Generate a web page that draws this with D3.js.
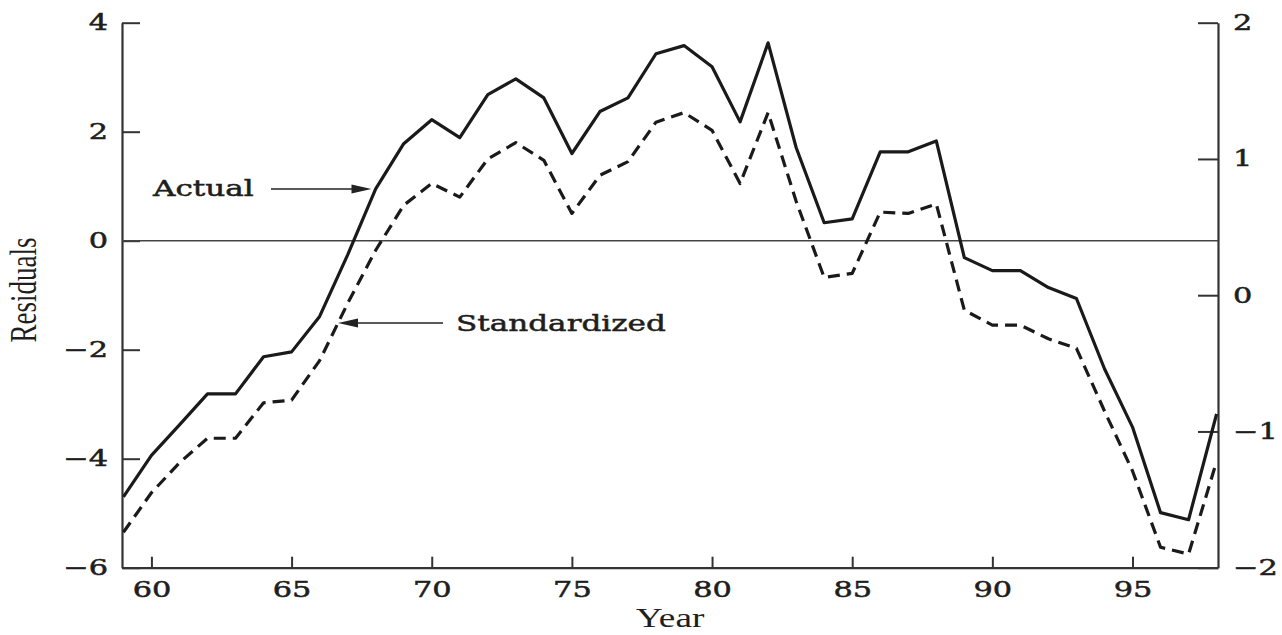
<!DOCTYPE html>
<html><head><meta charset="utf-8">
<script src="https://cdn.jsdelivr.net/npm/d3@7"></script>
<style>
html,body{margin:0;padding:0;background:#fff;}
svg{display:block;}
</style></head>
<body>
<svg id="chart" width="1282" height="635"></svg>
<script>
// ---- data ----
const years = [59,60,61,62,63,64,65,66,67,68,69,70,71,72,73,74,75,76,77,78,79,80,81,82,83,84,85,86,87,88,89,90,91,92,93,94,95,96,97,98];
// Actual residuals (left axis)
const actual = [-4.70,-3.94,-3.38,-2.81,-2.81,-2.13,-2.04,-1.39,-0.26,0.95,1.78,2.22,1.89,2.68,2.97,2.62,1.60,2.37,2.62,3.43,3.58,3.19,2.18,3.63,1.71,0.33,0.40,1.63,1.63,1.83,-0.31,-0.55,-0.55,-0.86,-1.06,-2.35,-3.42,-4.99,-5.12,-3.18];
// Standardized residuals (right axis)
const standardized = [-1.74,-1.45,-1.23,-1.05,-1.05,-0.79,-0.77,-0.48,-0.06,0.33,0.66,0.82,0.72,1.00,1.12,0.99,0.60,0.88,0.98,1.27,1.34,1.21,0.82,1.34,0.69,0.13,0.16,0.61,0.60,0.67,-0.11,-0.22,-0.22,-0.32,-0.39,-0.85,-1.29,-1.85,-1.90,-1.22];
const xTicks = [60,65,70,75,80,85,90,95];
const leftTicks = [-6,-4,-2,0,2,4];
const rightTicks = [-2,-1,0,1,2];
const labels = {y:"Residuals", x:"Year", actual:"Actual", standardized:"Standardized"};

// ---- layout ----
const L = 122, R = 1218, T = 22.7, B = 567.7;
const SX = 1.38; // horizontal stretch of the reference's text
const numFont = "'DejaVu Serif', serif";
const titleFont = "'Liberation Serif', 'Times New Roman', serif";
const ink = "#1e1e1e";

const svg = d3.select("#chart");
const x = d3.scaleLinear().domain([58.95, 98.05]).range([L, R]);
const yL = d3.scaleLinear().domain([-6, 4]).range([B, T]);
const yR = d3.scaleLinear().domain([-2, 2]).range([B, T]);

function stretchTicks(g) {
  g.selectAll(".tick text").each(function() {
    const t = d3.select(this);
    const tx = +t.attr("x") || 0, ty = +t.attr("y") || 0;
    t.attr("x", 0).attr("y", 0)
     .attr("transform", `translate(${tx},${ty}) scale(${SX},1)`);
  });
}

// left axis
const gL = svg.append("g").attr("transform", `translate(${L},0)`)
  .call(d3.axisLeft(yL).tickValues(leftTicks).tickSizeInner(-18).tickSizeOuter(0).tickPadding(14)
        .tickFormat(d => d < 0 ? "\u2212" + Math.abs(d) : d));
// right axis
const gR = svg.append("g").attr("transform", `translate(${R},0)`)
  .call(d3.axisRight(yR).tickValues(rightTicks).tickSizeInner(-20).tickSizeOuter(0).tickPadding(15)
        .tickFormat(d => d < 0 ? "\u2212" + Math.abs(d) : d));
// bottom axis
const gB = svg.append("g").attr("transform", `translate(0,${B})`)
  .call(d3.axisBottom(x).tickValues(xTicks).tickSizeInner(-11).tickSizeOuter(0).tickPadding(14)
        .tickFormat(d3.format("d")));

[gL, gR, gB].forEach(g => {
  g.select(".domain").attr("stroke", "#333").attr("stroke-width", 2.2);
  g.selectAll(".tick line").attr("stroke", "#333").attr("stroke-width", 2);
  g.selectAll(".tick text").attr("font-family", numFont).attr("font-size", 22).attr("fill", ink)
    .attr("stroke", ink).attr("stroke-width", 0.5);
  stretchTicks(g);
});

// zero line
svg.append("line").attr("x1", L).attr("x2", R).attr("y1", yL(0)).attr("y2", yL(0))
  .attr("stroke", "#444").attr("stroke-width", 1.5);

// lines
const lineA = d3.line().x((d,i) => x(years[i])).y(d => yL(d));
const lineS = d3.line().x((d,i) => x(years[i])).y(d => yR(d));
svg.append("path").datum(actual).attr("d", lineA)
  .attr("fill", "none").attr("stroke", "#1a1a1a").attr("stroke-width", 3.2).attr("stroke-linejoin", "round");
svg.append("path").datum(standardized).attr("d", lineS)
  .attr("fill", "none").attr("stroke", "#1a1a1a").attr("stroke-width", 3.2)
  .attr("stroke-dasharray", "12,7").attr("stroke-linejoin", "round");

// annotations
function arrow(x1, y1, x2, y2) {
  const dir = Math.sign(x2 - x1), len = 20, hw = 4.5;
  svg.append("line").attr("x1", x1).attr("y1", y1).attr("x2", x2 - dir*len*0.8).attr("y2", y2)
    .attr("stroke", "#222").attr("stroke-width", 1.6);
  svg.append("path")
    .attr("d", `M${x2},${y2} L${x2 - dir*len},${y2 - hw} L${x2 - dir*len},${y2 + hw} Z`)
    .attr("fill", "#222");
}
function label(txt, tx, ty, anchor, font, size, sw) {
  svg.append("text").text(txt)
    .attr("transform", `translate(${tx},${ty}) scale(${SX},1)`)
    .attr("text-anchor", anchor).attr("font-family", font).attr("font-size", size).attr("fill", ink)
    .attr("stroke", ink).attr("stroke-width", sw || 0);
}
label(labels.actual, 153, 196, "start", numFont, 22.5, 0.5);
arrow(271, 189, x(67.85), 189);
label(labels.standardized, 456, 331, "start", numFont, 22.5, 0.5);
arrow(443, 323, 338, 323);

// axis titles
label(labels.x, 670, 627, "middle", titleFont, 27, 0);
svg.append("text").text(labels.y)
  .attr("transform", `translate(36,290) scale(${SX},1) rotate(-90)`)
  .attr("text-anchor", "middle").attr("font-family", titleFont).attr("font-size", 27).attr("fill", ink);
</script>
</body></html>
